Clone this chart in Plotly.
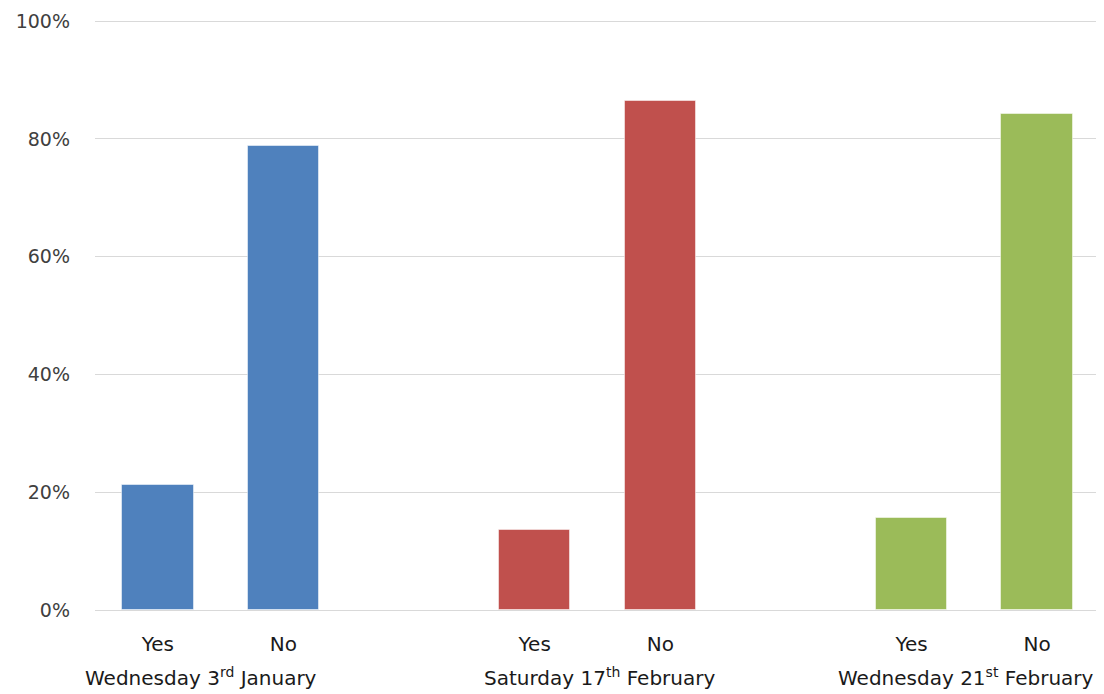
import plotly.graph_objects as go

# Data
groups = ["Wednesday 3<sup>rd</sup> January",
          "Saturday 17<sup>th</sup> February",
          "Wednesday 21<sup>st</sup> February"]
answers = ["Yes", "No"]
yes_share = [0.212, 0.136, 0.157]
no_share = [0.788, 0.864, 0.843]
colors = ["#4F81BD", "#C0504D", "#9BBB59"]

font_family = "DejaVu Sans, sans-serif"

fig = go.Figure()
tickvals, ticktext = [], []
for i, g in enumerate(groups):
    base = i * 3
    xs = [base, base + 1]
    fig.add_trace(go.Bar(
        x=xs, y=[yes_share[i], no_share[i]],
        marker=dict(color=colors[i], line=dict(color="rgba(255,255,255,0.5)", width=1)),
        width=0.57, showlegend=False, name=g,
    ))
    tickvals += xs
    ticktext += answers

label_shift = [-20, 2, -8]
for i, g in enumerate(groups):
    fig.add_annotation(
        x=i * 3 + 0.5, y=0, xref="x", yref="paper",
        text=g, showarrow=False, yshift=-82, xshift=label_shift[i],
        font=dict(family=font_family, size=20, color="#1a1a1a"),
    )

fig.update_layout(
    width=1104, height=694,
    margin=dict(l=87, r=12, t=12, b=92),
    paper_bgcolor="white", plot_bgcolor="white",
    bargap=0,
    font=dict(family=font_family, size=19, color="#404040"),
)
fig.update_xaxes(
    range=[-0.5, 7.5], tickvals=tickvals, ticktext=ticktext,
    showgrid=False, zeroline=False, showline=False, ticks="",
    tickfont=dict(size=20, color="#1a1a1a"), ticklabelstandoff=20,
    automargin=False,
)
fig.update_yaxes(
    range=[0, 1.002], tickvals=[0, 0.2, 0.4, 0.6, 0.8, 1.0], tickformat=".0%",
    showgrid=True, gridcolor="#d9d9d9", gridwidth=1,
    zeroline=True, zerolinecolor="#d9d9d9", zerolinewidth=1,
    showline=False, ticks="", ticklabelstandoff=24,
    tickfont=dict(size=19, color="#404040"),
    automargin=False,
)

fig.write_html("out.html")
